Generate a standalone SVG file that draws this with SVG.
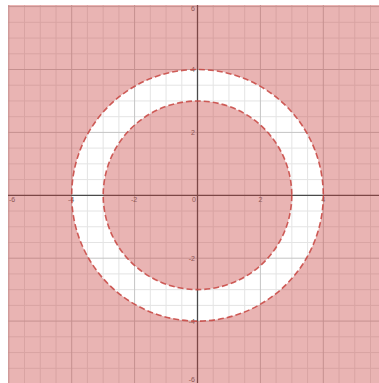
<svg xmlns="http://www.w3.org/2000/svg" width="379" height="383" viewBox="0 0 379 383">
<style>
.minor{stroke:#e4e4e4;stroke-width:1;fill:none}
.major{stroke:#c4c4c4;stroke-width:1;fill:none}
.axis{stroke:#4a4a4a;stroke-width:1.3;fill:none}
.lbl{font-family:"Liberation Sans",Arial,sans-serif;font-size:7px;fill:#666}
.region{fill:#c74440;fill-opacity:0.4;fill-rule:evenodd}
.bound{fill:none;stroke:#c74440;stroke-width:1.6;stroke-dasharray:6 3;stroke-opacity:0.85}
</style>
<defs>
<clipPath id="plot"><rect x="8" y="5" width="371" height="378"/></clipPath>
</defs>
<rect width="379" height="383" fill="#fff"/>
<g clip-path="url(#plot)">
<g id="grid">
<path class="minor" d="M24.5 0V383M40.25 0V383M56 0V383M87.4 0V383M103.15 0V383M118.9 0V383M150.3 0V383M166.05 0V383M181.8 0V383M213.2 0V383M228.95 0V383M244.7 0V383M276.1 0V383M291.85 0V383M307.6 0V383M339 0V383M354.75 0V383M370.5 0V383M0 22.3H379M0 38.05H379M0 53.8H379M0 85.2H379M0 100.95H379M0 116.7H379M0 148.1H379M0 163.85H379M0 179.6H379M0 211H379M0 226.75H379M0 242.5H379M0 273.9H379M0 289.65H379M0 305.4H379M0 336.8H379M0 352.55H379M0 368.3H379"/>
<path class="major" d="M8.8 0V383M71.7 0V383M134.6 0V383M260.4 0V383M323.3 0V383M0 6.6H379M0 69.5H379M0 132.4H379M0 258.2H379M0 321.1H379"/>
</g>
<g id="axes">
<path class="axis" d="M197.5 0V383M0 195.3H379"/>
</g>
<g id="labels">
<text class="lbl" x="195" y="11" text-anchor="end">6</text>
<text class="lbl" x="195" y="72" text-anchor="end">4</text>
<text class="lbl" x="195" y="135" text-anchor="end">2</text>
<text class="lbl" x="195" y="261" text-anchor="end">-2</text>
<text class="lbl" x="195" y="323.5" text-anchor="end">-4</text>
<text class="lbl" x="195" y="381.5" text-anchor="end">-6</text>
<text class="lbl" x="12" y="201.5" text-anchor="middle">-6</text>
<text class="lbl" x="71" y="201.5" text-anchor="middle">-4</text>
<text class="lbl" x="134" y="201.5" text-anchor="middle">-2</text>
<text class="lbl" x="194" y="202" text-anchor="middle">0</text>
<text class="lbl" x="260.4" y="201.5" text-anchor="middle">2</text>
<text class="lbl" x="323.3" y="201.5" text-anchor="middle">4</text>
</g>
<g id="region">
<path class="region" d="M0 0H379V383H0Z M197.5 69.5a125.8 125.8 0 1 0 0.01 0Z M197.5 101a94.3 94.3 0 1 0 0.01 0Z"/>
</g>
<g id="connectors">
<circle class="bound" cx="197.5" cy="195.3" r="125.8"/>
<circle class="bound" cx="197.5" cy="195.3" r="94.3"/>
</g>
</g>
</svg>
